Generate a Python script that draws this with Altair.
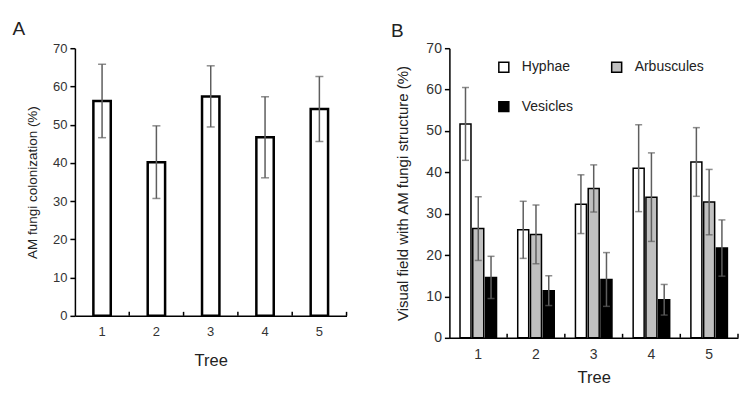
import altair as alt
import pandas as pd

# ---------------- data ----------------
trees = ["1", "2", "3", "4", "5"]
colon_mean = [56.2, 40.2, 57.4, 46.7, 54.1]
colon_err = [9.6, 9.5, 8.0, 10.6, 8.5]

structures = ["Hyphae", "Arbuscules", "Vesicles"]
hyphae_mean = [51.7, 26.1, 32.3, 41.0, 42.5]
hyphae_err = [8.8, 6.9, 7.1, 10.5, 8.3]
arb_mean = [26.4, 25.0, 36.1, 34.0, 32.8]
arb_err = [7.7, 7.1, 5.7, 10.7, 7.9]
ves_mean = [14.6, 11.4, 14.1, 9.2, 21.7]
ves_err = [5.1, 3.6, 6.5, 3.7, 6.8]

y_ticks = [0, 10, 20, 30, 40, 50, 60, 70]

FONT = "Liberation Sans, Arial, sans-serif"
ERR_COLOR = "#5e5e5e"

dfA = pd.DataFrame({"tree": trees, "mean": colon_mean, "err": colon_err})
dfA["lo"] = dfA["mean"] - dfA["err"]
dfA["hi"] = dfA["mean"] + dfA["err"]

rows = []
for s, m, e in [("Hyphae", hyphae_mean, hyphae_err),
                ("Arbuscules", arb_mean, arb_err),
                ("Vesicles", ves_mean, ves_err)]:
    for t, mv, ev in zip(trees, m, e):
        rows.append({"tree": t, "structure": s, "mean": mv, "err": ev,
                     "lo": mv - ev, "hi": mv + ev})
dfB = pd.DataFrame(rows)
dfTrees = pd.DataFrame({"tree": trees})

# ---------------- panel A ----------------
WA, HA = 272, 268
titleA = "AM fungi colonization (%)"

xA_axis = alt.Axis(labelAngle=0, ticks=False, labelPadding=10, titlePadding=14,
                   labelFontSize=13, titleFontSize=16.5, labelOverlap=False)
xA_scale = alt.Scale(paddingInner=0, paddingOuter=0)
yA_scale = alt.Scale(domain=[0, 70], nice=False)
yA_axis = alt.Axis(values=y_ticks, tickSize=5, labelFontSize=13,
                   titleFontSize=13.5, titlePadding=13, labelPadding=3,
                   labelOverlap=False)


def xa(**kw):
    return alt.X("tree:N", sort=trees, title="Tree", scale=xA_scale,
                 axis=xA_axis, **kw)


def ya(field):
    return alt.Y(field, title=titleA, scale=yA_scale, axis=yA_axis)


baseA = alt.Chart(dfA)
barsA = baseA.mark_bar(width=alt.RelativeBandSize(0.32), fill="white",
                       stroke="black", strokeWidth=2.5).encode(
    x=xa(), y=ya("mean:Q"))
errA = baseA.mark_rule(color=ERR_COLOR, strokeWidth=1.5).encode(
    x=xa(), y=ya("lo:Q"), y2="hi:Q")
capHiA = baseA.mark_tick(color=ERR_COLOR, thickness=1.5, size=8).encode(
    x=xa(), y=ya("hi:Q"))
capLoA = baseA.mark_tick(color=ERR_COLOR, thickness=1.5, size=8).encode(
    x=xa(), y=ya("lo:Q"))
edgeA = alt.Chart(dfTrees).mark_rule(color="black", strokeWidth=1.5).encode(
    x=xa(bandPosition=1), y=alt.value(HA), y2=alt.value(HA - 4))

panelA = alt.layer(barsA, errA, capHiA, capLoA, edgeA).properties(
    width=WA, height=HA,
    title=alt.TitleParams("A", anchor="start", frame="bounds", fontSize=19,
                          fontWeight="normal", dx=-13, offset=3))

# ---------------- panel B ----------------
WB, HB = 289, 290
titleB = "Visual field with AM fungi structure (%)"

xB_axis = alt.Axis(labelAngle=0, ticks=False, labelPadding=10, titlePadding=8,
                   labelFontSize=14, titleFontSize=16.5, labelOverlap=False)
xB_scale = alt.Scale(paddingInner=0, paddingOuter=0)
xOff = alt.XOffset("structure:N", sort=structures,
                   scale=alt.Scale(paddingInner=0.14, paddingOuter=0.83))
yB_scale = alt.Scale(domain=[0, 70], nice=False)
yB_axis = alt.Axis(values=y_ticks, tickSize=5, labelFontSize=14,
                   titleFontSize=15, titlePadding=15, labelPadding=3,
                   labelOverlap=False)


def xb(**kw):
    return alt.X("tree:N", sort=trees, title="Tree", scale=xB_scale,
                 axis=xB_axis, **kw)


def yb(field):
    return alt.Y(field, title=titleB, scale=yB_scale, axis=yB_axis)


legendB = alt.Legend(title=None, orient="none", legendX=422.5, legendY=12,
                     direction="horizontal", columns=2, columnPadding=35,
                     rowPadding=23.5, symbolType="square", symbolSize=100,
                     symbolStrokeColor="black", symbolStrokeWidth=1.5,
                     labelFontSize=14, labelOffset=11, padding=0)

baseB = alt.Chart(dfB)
barsB = baseB.mark_bar(stroke="black", strokeWidth=1.5).encode(
    x=xb(), xOffset=xOff, y=yb("mean:Q"),
    fill=alt.Fill("structure:N", sort=structures,
                  scale=alt.Scale(domain=structures,
                                  range=["white", "#c0c0c0", "black"]),
                  legend=legendB))
errB = baseB.mark_rule(color=ERR_COLOR, strokeWidth=1.5).encode(
    x=xb(), xOffset=xOff, y=yb("lo:Q"), y2="hi:Q")
capHiB = baseB.mark_tick(color=ERR_COLOR, thickness=1.5, size=7).encode(
    x=xb(), xOffset=xOff, y=yb("hi:Q"))
capLoB = baseB.mark_tick(color=ERR_COLOR, thickness=1.5, size=7).encode(
    x=xb(), xOffset=xOff, y=yb("lo:Q"))
edgeB = alt.Chart(dfTrees).mark_rule(color="black", strokeWidth=1.5).encode(
    x=xb(bandPosition=1), y=alt.value(HB), y2=alt.value(HB - 4))

panelB = alt.layer(barsB, errB, capHiB, capLoB, edgeB).properties(
    width=WB, height=HB,
    title=alt.TitleParams("B", anchor="start", frame="bounds", fontSize=19,
                          fontWeight="normal", dx=-5, offset=0))

chart = alt.hconcat(panelA, panelB, spacing=43).configure(
    font=FONT, padding={"left": 4, "top": 12, "right": 5, "bottom": 5}
).configure_view(stroke=None).configure_axis(
    grid=False, domainColor="black", domainWidth=1.5, tickColor="black",
    tickWidth=1.5, labelColor="#333333", titleColor="#222222",
    titleFontWeight="normal", labelFont=FONT, titleFont=FONT
).configure_title(font=FONT, color="#222222").configure_legend(
    labelFont=FONT, labelColor="#222222")

chart.save("out.html", embed_options={"renderer": "svg", "actions": False})
